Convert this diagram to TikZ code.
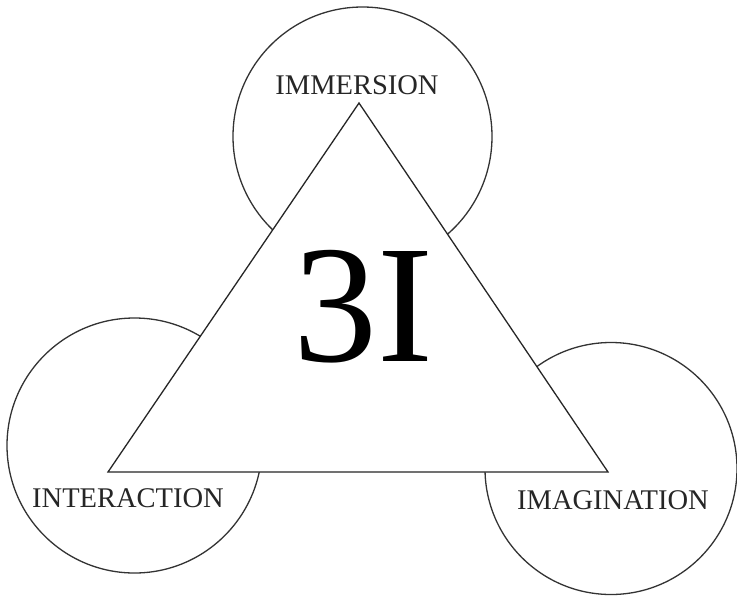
\documentclass[tikz,border=0pt]{standalone}
\usepackage{fontspec}
\setmainfont{Liberation Serif}
\begin{document}
\begin{tikzpicture}[x=1pt,y=-1pt,
  ring/.style={circle,draw=black!80,line width=1.3pt,fill=white,inner sep=0pt},
  lbl/.style={font=\fontsize{28.5}{30}\selectfont,text=black!85,inner sep=0pt},
  tri/.style={draw=black!85,line width=1.3pt,fill=white,line join=miter}]
\useasboundingbox (0,0) rectangle (737,598);
\node[ring,minimum size=259pt] (cTop) at (362.5,136.5) {};
\node[ring,minimum size=255pt] (cLeft) at (134.5,445.5) {};
\node[ring,minimum size=252pt] (cRight) at (611,468.5) {};
\coordinate (apex) at (359,103);
\coordinate (bl) at (108,472);
\coordinate (br) at (608,472);
\draw[tri] (apex) -- (bl) -- (br) -- cycle;
\node[font=\fontsize{168}{170}\selectfont,inner sep=0pt] (title) at (363,307) {3I};
\node[lbl] (imm) at (357,85) {IMMERSION};
\node[lbl] (int) at (128,498) {INTERACTION};
\node[lbl] (ima) at (613,500) {IMAGINATION};
\end{tikzpicture}
\end{document}
